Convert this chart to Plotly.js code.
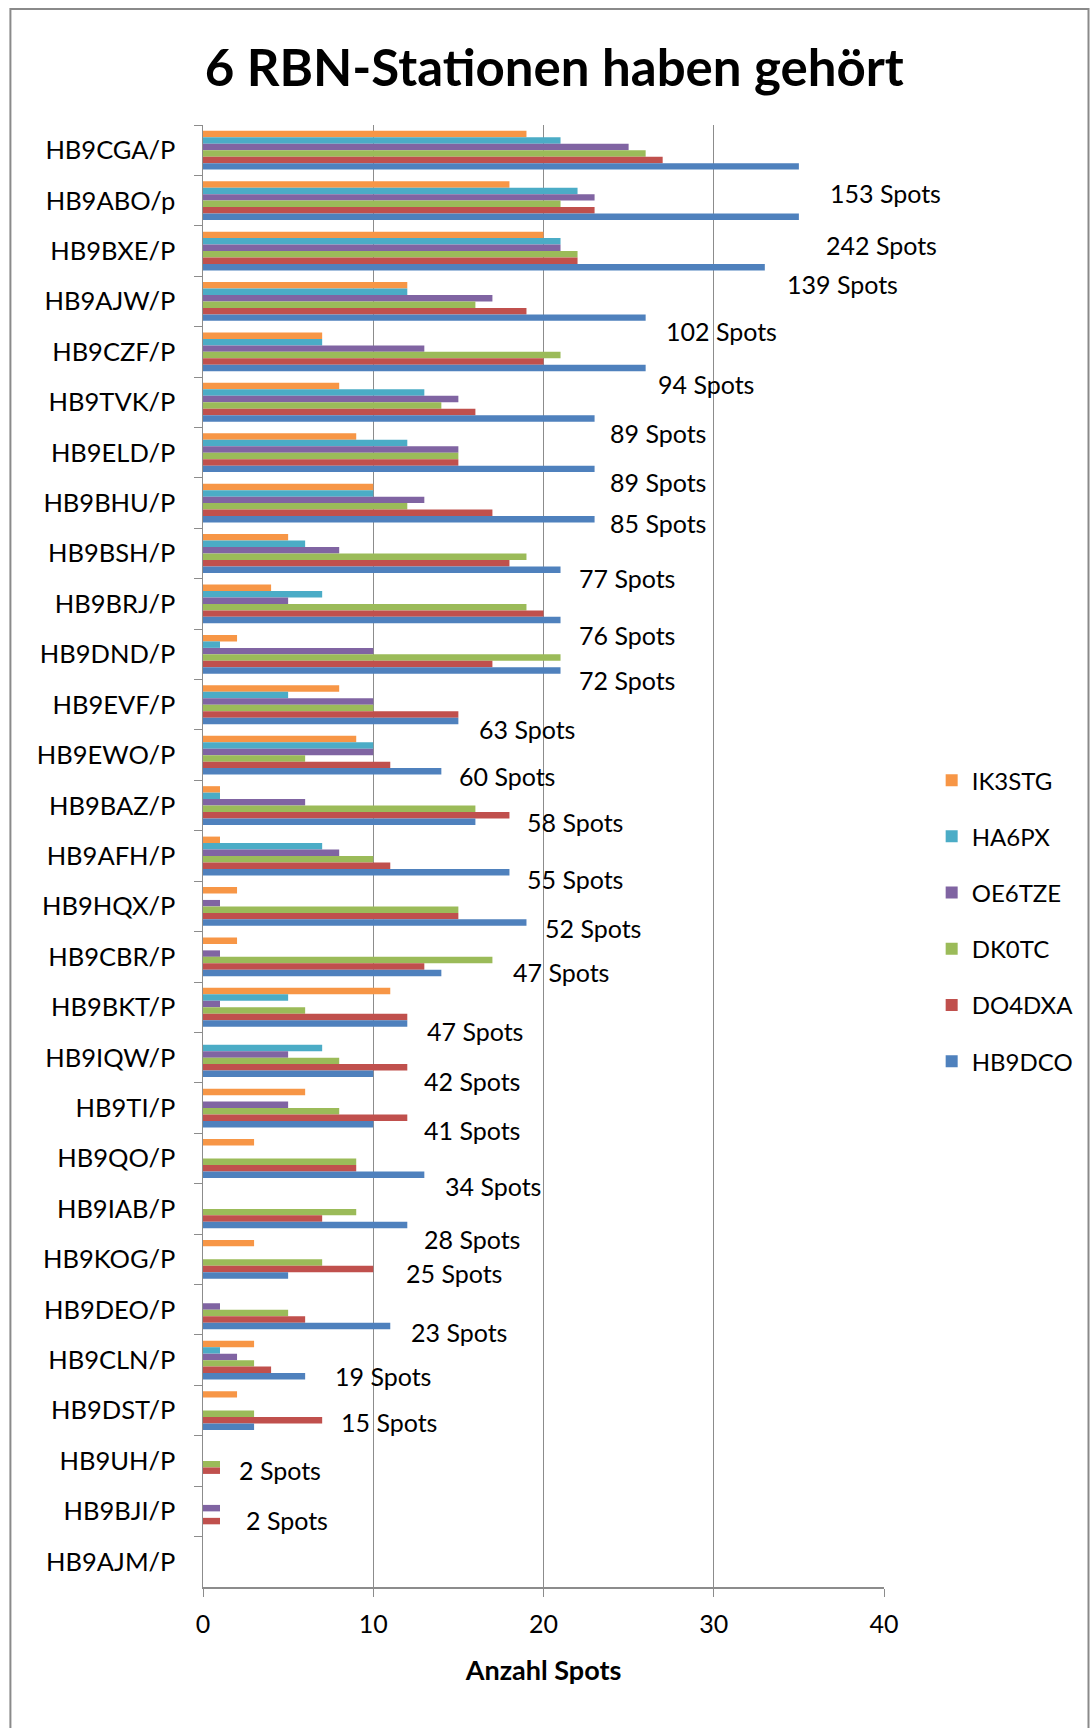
<!DOCTYPE html>
<html>
<head>
<meta charset="utf-8">
<script src="https://cdn.plot.ly/plotly-3.0.1.min.js"></script>
<style>
  html, body { margin: 0; padding: 0; background: #ffffff; }
  #chart { width: 1091px; height: 1728px; }
</style>
</head>
<body>
<div id="chart"></div>
<script>
// ---- data ----
const categories = [
  "HB9CGA/P","HB9ABO/p","HB9BXE/P","HB9AJW/P","HB9CZF/P","HB9TVK/P","HB9ELD/P","HB9BHU/P",
  "HB9BSH/P","HB9BRJ/P","HB9DND/P","HB9EVF/P","HB9EWO/P","HB9BAZ/P","HB9AFH/P","HB9HQX/P",
  "HB9CBR/P","HB9BKT/P","HB9IQW/P","HB9TI/P","HB9QO/P","HB9IAB/P","HB9KOG/P","HB9DEO/P",
  "HB9CLN/P","HB9DST/P","HB9UH/P","HB9BJI/P","HB9AJM/P"
];
const IK3STG = [19,18,20,12,7,8,9,10,5,4,2,8,9,1,1,2,2,11,0,6,3,0,3,0,3,2,0,0,0];
const HA6PX  = [21,22,21,12,7,13,12,10,6,7,1,5,10,1,7,0,0,5,7,0,0,0,0,0,1,0,0,0,0];
const OE6TZE = [25,23,21,17,13,15,15,13,8,5,10,10,10,6,8,1,1,1,5,5,0,0,0,1,2,0,0,1,0];
const DK0TC  = [26,21,22,16,21,14,15,12,19,19,21,10,6,16,10,15,17,6,8,8,9,9,7,5,3,3,1,0,0];
const DO4DXA = [27,23,22,19,20,16,15,17,18,20,17,15,11,18,11,15,13,12,12,12,9,7,10,6,4,7,1,1,0];
const HB9DCO = [35,35,33,26,26,23,23,23,21,21,21,15,14,16,18,19,14,12,10,10,13,12,5,11,6,3,0,0,0];
const seriesNames = ["IK3STG","HA6PX","OE6TZE","DK0TC","DO4DXA","HB9DCO"];
const spotLabels = ["153 Spots","242 Spots","139 Spots","102 Spots","94 Spots","89 Spots","89 Spots",
  "85 Spots","77 Spots","76 Spots","72 Spots","63 Spots","60 Spots","58 Spots","55 Spots","52 Spots",
  "47 Spots","47 Spots","42 Spots","41 Spots","34 Spots","28 Spots","25 Spots","23 Spots","19 Spots",
  "15 Spots","2 Spots","2 Spots"];
const xTicks = [0,10,20,30,40];

// ---- layout details (positions of the free-floating labels, as in the original) ----
const labelAnchorX = [36.7,36.45,34.2,27.1,26.6,23.8,23.8,23.8,21.97,21.97,21.97,16.09,14.93,18.93,18.93,
  19.97,18.09,13.05,12.86,12.86,14.09,12.86,11.83,12.08,7.63,8.01,2.0,2.39];
const labelAnchorY = [0.85,1.88,2.65,3.59,4.63,5.6,6.58,7.39,8.48,9.62,10.51,11.48,12.41,13.33,14.45,
  15.43,16.30,17.48,18.47,19.43,20.54,21.59,22.27,23.45,24.32,25.22,26.18,27.17];

const seriesValues = [IK3STG, HA6PX, OE6TZE, DK0TC, DO4DXA, HB9DCO];
const colors = ["#F79646","#4BACC6","#8064A2","#9BBB59","#C0504D","#4F81BD"];

const FONT = "Lato, 'Open Sans', sans-serif";

const traces = seriesNames.map((name, i) => ({
  type: "bar",
  orientation: "h",
  name: name,
  legendgroup: "g" + i,
  x: seriesValues[i],
  y: categories,
  marker: { color: colors[i], line: { width: 0 } },
  hoverinfo: "x+name"
}));

const annotations = spotLabels.map((t, i) => ({
  text: t,
  x: labelAnchorX[i],
  y: labelAnchorY[i],
  xref: "x",
  yref: "y",
  xanchor: "left",
  yanchor: "middle",
  showarrow: false,
  font: { family: FONT, size: 25, color: "#000000" }
}));

const layout = {
  width: 1091,
  height: 1728,
  paper_bgcolor: "#ffffff",
  plot_bgcolor: "#ffffff",
  margin: { l: 203, r: 202, t: 125, b: 141, pad: 0 },
  title: {
    text: "<b>6 RBN-Stationen haben gehört</b>",
    font: { family: FONT, size: 51, color: "#000000" },
    x: 0.508, xanchor: "center",
    yref: "container", y: 1 - 68/1728, yanchor: "middle"
  },
  barmode: "group",
  bargap: 0.23,
  bargroupgap: 0,
  showlegend: true,
  legend: {
    x: 1.07, xanchor: "left",
    y: 0.4555, yanchor: "middle",
    traceorder: "grouped",
    tracegroupgap: 22,
    font: { family: FONT, size: 24, color: "#000000" },
    itemwidth: 30,
    bgcolor: "rgba(0,0,0,0)"
  },
  xaxis: {
    range: [0, 40],
    tickvals: xTicks,
    ticktext: xTicks.map(String),
    showgrid: true,
    gridcolor: "#8c8c8c",
    gridwidth: 1,
    zeroline: false,
    showline: true,
    linecolor: "#8c8c8c",
    linewidth: 1.5,
    ticks: "outside",
    ticklen: 8,
    tickcolor: "#8c8c8c",
    ticklabelstandoff: 6,
    tickfont: { family: FONT, size: 25, color: "#000000" },
    title: { text: "<b>Anzahl Spots</b>", font: { family: FONT, size: 27, color: "#000000" }, standoff: 24 },
    fixedrange: true
  },
  yaxis: {
    type: "category",
    autorange: "reversed",
    showgrid: false,
    zeroline: false,
    showline: true,
    linecolor: "#8c8c8c",
    linewidth: 1.5,
    ticks: "outside",
    tickson: "boundaries",
    ticklen: 8,
    tickcolor: "#8c8c8c",
    ticklabelstandoff: 21,
    tickfont: { family: FONT, size: 25.5, color: "#000000" },
    fixedrange: true
  },
  annotations: annotations,
  shapes: [{
    type: "rect",
    xref: "paper", yref: "paper",
    x0: (9 - 203) / 686, x1: (1095 - 203) / 686,
    y0: -0.2, y1: (1587 - 9) / 1462,
    line: { color: "#8a8a8a", width: 2 },
    fillcolor: "rgba(0,0,0,0)",
    layer: "below"
  }]
};

Plotly.newPlot("chart", traces, layout, { staticPlot: true, displayModeBar: false });
</script>
</body>
</html>
